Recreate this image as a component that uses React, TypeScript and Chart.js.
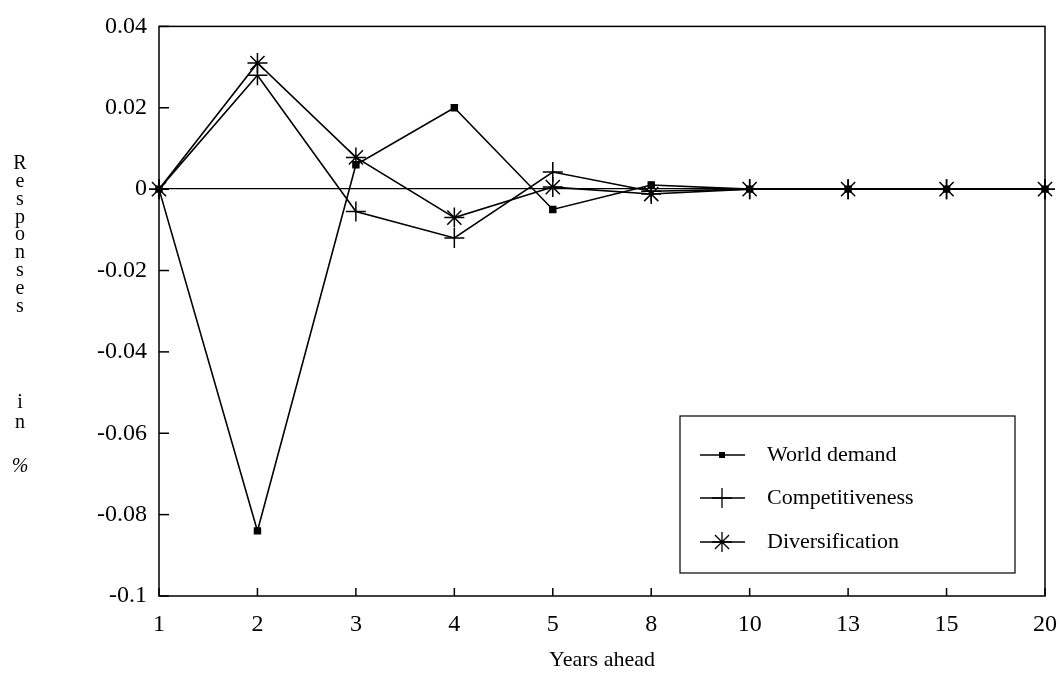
import React, { useEffect, useRef } from "react";
import { Chart, registerables } from "chart.js";

Chart.register(...registerables);

const years = ["1", "2", "3", "4", "5", "8", "10", "13", "15", "20"];
const worldDemand = [0, -0.084, 0.006, 0.02, -0.005, 0.001, 0, 0, 0, 0];
const competitiveness = [0, 0.028, -0.0055, -0.012, 0.0042, -0.0005, 0, 0, 0, 0];
const diversification = [0, 0.031, 0.0078, -0.007, 0.0005, -0.0012, 0, 0, 0, 0];
const yTickValues = [0.04, 0.02, 0, -0.02, -0.04, -0.06, -0.08, -0.1];
const seriesNames = ["World demand", "Competitiveness", "Diversification"];
const xTitle = "Years ahead";
const yTitleWords = ["Responses", "in", "%"];

const FONT = "'Liberation Serif', 'Times New Roman', serif";

function drawMarker(ctx: CanvasRenderingContext2D, kind: string, x: number, y: number) {
  ctx.beginPath();
  if (kind === "rect") {
    ctx.fillRect(x - 3, y - 3, 6, 6);
    return;
  }
  if (kind === "cross") {
    ctx.moveTo(x, y - 10);
    ctx.lineTo(x, y + 10);
    ctx.moveTo(x - 10, y);
    ctx.lineTo(x + 10, y);
  } else {
    ctx.moveTo(x, y - 10);
    ctx.lineTo(x, y + 10);
    ctx.moveTo(x - 10, y);
    ctx.lineTo(x + 10, y);
    const d = 7.07;
    ctx.moveTo(x - d, y - d);
    ctx.lineTo(x + d, y + d);
    ctx.moveTo(x - d, y + d);
    ctx.lineTo(x + d, y - d);
  }
  ctx.stroke();
}

const decorPlugin = {
  id: "decor",
  afterDraw(chart: any) {
    const ctx: CanvasRenderingContext2D = chart.ctx;
    const { left, right, top, bottom } = chart.chartArea;
    ctx.save();
    ctx.strokeStyle = "#000";
    ctx.fillStyle = "#000";
    ctx.lineWidth = 1.5;
    ctx.strokeRect(left, top, right - left, bottom - top);

    const ys = chart.scales.y;
    ys.ticks.forEach((_t: any, i: number) => {
      const py = ys.getPixelForTick(i);
      ctx.beginPath();
      ctx.moveTo(left, py);
      ctx.lineTo(left + 10, py);
      ctx.stroke();
    });
    const xs = chart.scales.x;
    xs.ticks.forEach((_t: any, i: number) => {
      const px = xs.getPixelForTick(i);
      ctx.beginPath();
      ctx.moveTo(px, bottom);
      ctx.lineTo(px, bottom - 8);
      ctx.stroke();
    });

    // x title
    ctx.font = `22px ${FONT}`;
    ctx.textAlign = "center";
    ctx.textBaseline = "middle";
    ctx.fillText(xTitle, (left + right) / 2, 660);

    // vertical y title
    ctx.font = `20px ${FONT}`;
    const starts = [164, 403, 467];
    const steps = [17.8, 20, 18];
    yTitleWords.forEach((w, wi) => {
      const chars = Array.from(w);
      chars.forEach((c, ci) => {
        if (c === "%") {
          ctx.save();
          ctx.font = `italic 20px ${FONT}`;
          ctx.fillText(c, 20, starts[wi] + ci * steps[wi]);
          ctx.restore();
        } else {
          ctx.fillText(c, 20, starts[wi] + ci * steps[wi]);
        }
      });
    });

    // legend box
    const bx = 680, by = 416, bw = 335, bh = 157;
    ctx.fillStyle = "#fff";
    ctx.fillRect(bx, by, bw, bh);
    ctx.fillStyle = "#000";
    ctx.lineWidth = 1.2;
    ctx.strokeRect(bx, by, bw, bh);
    const kinds = ["rect", "cross", "star"];
    const rowsY = [455, 498, 542];
    ctx.font = `22px ${FONT}`;
    ctx.textAlign = "left";
    seriesNames.forEach((name, i) => {
      const y = rowsY[i];
      ctx.lineWidth = 1.3;
      ctx.beginPath();
      ctx.moveTo(700, y);
      ctx.lineTo(745, y);
      ctx.stroke();
      drawMarker(ctx, kinds[i], 722, y);
      ctx.fillText(name, 767, y);
    });
    ctx.restore();
  },
};

export default function App() {
  const ref = useRef<HTMLCanvasElement | null>(null);
  useEffect(() => {
    if (!ref.current) return;
    Chart.defaults.color = "#000";
    Chart.defaults.font.family = FONT;
    const common = {
      borderColor: "#000",
      backgroundColor: "#000",
      pointBorderColor: "#000",
      pointBackgroundColor: "#000",
      borderWidth: 1.6,
      pointBorderWidth: 1.5,
      tension: 0,
      fill: false,
    };
    const chart = new Chart(ref.current, {
      type: "line",
      data: {
        labels: years,
        datasets: [
          { ...common, label: seriesNames[0], data: worldDemand, pointStyle: "rect", pointRadius: 4.2 },
          { ...common, label: seriesNames[1], data: competitiveness, pointStyle: "cross", pointRadius: 10 },
          { ...common, label: seriesNames[2], data: diversification, pointStyle: "star", pointRadius: 10 },
        ],
      },
      options: {
        animation: false,
        responsive: true,
        maintainAspectRatio: false,
        layout: { padding: { left: 0, right: 0, top: 25, bottom: 0 } },
        plugins: { legend: { display: false }, tooltip: { enabled: false } },
        scales: {
          x: {
            type: "category",
            offset: false,
            border: { display: false },
            grid: { display: false, drawTicks: false },
            ticks: { font: { size: 24, family: FONT }, color: "#000", padding: 14, maxRotation: 0, autoSkip: false },
            afterFit: (s: any) => {
              s.height = 77;
              s.paddingLeft = 0;
              s.paddingRight = 15;
            },
          },
          y: {
            min: -0.1,
            max: 0.04,
            border: { display: false },
            afterBuildTicks: (s: any) => {
              s.ticks = yTickValues.map((v) => ({ value: v }));
            },
            grid: {
              drawTicks: false,
              lineWidth: 1.3,
              color: (c: any) => (c.tick && Math.abs(c.tick.value) < 1e-9 ? "#000" : "rgba(0,0,0,0)"),
            },
            ticks: {
              font: { size: 24, family: FONT },
              color: "#000",
              padding: 12,
              callback: (v: any) => String(Number(Number(v).toFixed(2))),
            },
            afterFit: (s: any) => {
              s.width = 159;
            },
          },
        },
      },
      plugins: [decorPlugin],
    });
    return () => chart.destroy();
  }, []);
  return (
    <div style={{ position: "fixed", left: 0, top: 0, width: 1060, height: 673, background: "#fff" }}>
      <canvas ref={ref} />
    </div>
  );
}
